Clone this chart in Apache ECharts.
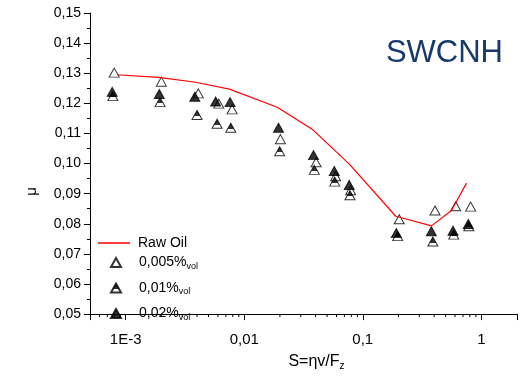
<!DOCTYPE html>
<html>
<head>
<meta charset="utf-8">
<script src="https://cdn.jsdelivr.net/npm/echarts@6/dist/echarts.min.js"></script>
<style>
html,body{margin:0;padding:0;background:#fff;}
#chart{width:523px;height:376px;}
</style>
</head>
<body>
<div id="chart"></div>
<script>
// ---- data ----
const rawOilS  = [0.00085, 0.0019, 0.0039, 0.0075, 0.019, 0.038, 0.077, 0.19, 0.38, 0.56, 0.75];
const rawOilMu = [0.1295, 0.1286, 0.1270, 0.1247, 0.1187, 0.1112, 0.0998, 0.0825, 0.0793, 0.0844, 0.0935];

const c005S  = [0.0008, 0.0020, 0.0041, 0.0061, 0.0079, 0.0202, 0.0404, 0.059, 0.079, 0.203, 0.407, 0.608, 0.813];
const c005Mu = [0.1302, 0.1272, 0.1233, 0.1199, 0.1180, 0.1081, 0.1004, 0.0958, 0.0911, 0.0815, 0.0844, 0.0858, 0.0857];

const c01S  = [0.00078, 0.00195, 0.0040, 0.0059, 0.0077, 0.0199, 0.039, 0.058, 0.078, 0.197, 0.39, 0.585, 0.785];
const c01Mu = [0.1224, 0.1204, 0.1161, 0.1132, 0.1119, 0.1041, 0.0979, 0.0940, 0.0895, 0.0759, 0.0741, 0.0764, 0.0792];

const c02S  = [0.00077, 0.00192, 0.00383, 0.00574, 0.0076, 0.01945, 0.0384, 0.0575, 0.0769, 0.192, 0.379, 0.577, 0.776];
const c02Mu = [0.1238, 0.1231, 0.1222, 0.1206, 0.1204, 0.1119, 0.1028, 0.0975, 0.0929, 0.0769, 0.0775, 0.0777, 0.0799];

const xTickLabels = {'-3': '1E-3', '-2': '0,01', '-1': '0,1', '0': '1'};
const seriesNames = ['Raw Oil', '0,005%', '0,01%', '0,02%'];
const chartTitle = 'SWCNH';
// --------------------------------------

const xMin = 0.0005, xMax = 2, yMin = 0.05, yMax = 0.15;
const minorX = [];
for (let e = -4; e <= 0; e++) {
  for (let m = 2; m <= 9; m++) {
    const v = m * Math.pow(10, e);
    if (v > xMin * 1.0001 && v < xMax * 0.9999) minorX.push([v, yMin]);
  }
}
const zip = (a, b) => a.map((v, i) => [v, b[i]]);
const FONT = '"Liberation Sans", Arial, sans-serif';

const legendRich = {
  m: {fontFamily: FONT, fontSize: 14, color: '#000', lineHeight: 16, padding: [0, 0, 0, 13]},
  r: {fontFamily: FONT, fontSize: 14, color: '#000', lineHeight: 16, padding: [0, 0, 0, 3]},
  s: {fontFamily: FONT, fontSize: 9, color: '#000', lineHeight: 9, padding: [8, 0, 0, 0]}
};

const chart = echarts.init(document.getElementById('chart'), null, {renderer: 'canvas'});
chart.setOption({
  animation: false,
  backgroundColor: '#fff',
  title: {
    text: chartTitle, right: 15, top: 33,
    textStyle: {fontFamily: FONT, fontSize: 31, fontWeight: 'normal', color: '#173a6b'}
  },
  grid: {left: 90, right: 6, top: 13, bottom: 50, containLabel: false},
  legend: [
    {
      orient: 'vertical', left: 93, top: 231,
      itemWidth: 32, itemHeight: 1.5,
      data: [{name: seriesNames[0], icon: 'rect'}],
      textStyle: {rich: legendRich},
      formatter: function (n) { return '{r|' + n + '}'; }
    },
    {
      orient: 'vertical', left: 105, top: 249,
      itemWidth: 10, itemHeight: 9, itemGap: 8.5,
      data: seriesNames.slice(1),
      textStyle: {rich: legendRich},
      formatter: function (n) { return '{m|' + n + '}{s|vol}'; }
    }
  ],
  xAxis: {
    type: 'log', logBase: 10, min: xMin, max: xMax,
    name: '{m|S=ηv/F}{s|z}', nameLocation: 'middle', nameGap: 32,
    nameTextStyle: {
      padding: [0, 0, 0, 26],
      rich: {
        m: {fontFamily: FONT, fontSize: 16, color: '#000', lineHeight: 18},
        s: {fontFamily: FONT, fontSize: 10, color: '#000', lineHeight: 10, padding: [9, 0, 0, 0]}
      }
    },
    axisLine: {show: true, onZero: false, lineStyle: {color: '#000', width: 1}},
    axisTick: {show: true, inside: false, length: 6, lineStyle: {color: '#000'}},
    minorTick: {show: false},
    splitLine: {show: false},
    axisLabel: {
      fontFamily: FONT, fontSize: 15, color: '#000', margin: 18,
      formatter: function (v) {
        const e = Math.round(Math.log10(v));
        if (Math.abs(Math.log10(v) - e) > 1e-6) return '';
        return xTickLabels[String(e)] || '';
      }
    }
  },
  yAxis: {
    type: 'value', min: yMin, max: yMax, interval: 0.01,
    name: 'μ', nameLocation: 'middle', nameGap: 51,
    nameTextStyle: {fontFamily: FONT, fontSize: 15, color: '#000', padding: [0, 56, 0, 0]},
    axisLine: {show: true, lineStyle: {color: '#000', width: 1}},
    axisTick: {show: true, inside: false, length: 6, lineStyle: {color: '#000'}},
    minorTick: {show: true, splitNumber: 2, length: 3, lineStyle: {color: '#000'}},
    splitLine: {show: false},
    axisLabel: {
      fontFamily: FONT, fontSize: 14, color: '#000', margin: 9,
      formatter: function (v) { return v.toFixed(2).replace('.', ','); }
    }
  },
  series: [
    {
      name: 'minorTicks', type: 'custom', silent: true, clip: false, z: 1,
      data: minorX,
      renderItem: function (params, api) {
        const p = api.coord([api.value(0), api.value(1)]);
        return {type: 'line', shape: {x1: p[0], y1: p[1], x2: p[0], y2: p[1] + 3},
                style: {stroke: '#000', lineWidth: 1}};
      }
    },
    {
      name: seriesNames[1], type: 'scatter', symbol: 'triangle', symbolSize: [10, 9], z: 3,
      itemStyle: {color: '#fff', borderColor: '#000', borderWidth: 1},
      data: zip(c005S, c005Mu)
    },
    {
      name: seriesNames[2], type: 'scatter', symbol: 'triangle', symbolSize: [10, 9], z: 3,
      itemStyle: {
        color: new echarts.graphic.LinearGradient(0, 0, 0, 1, [
          {offset: 0, color: '#000'}, {offset: 0.62, color: '#000'},
          {offset: 0.63, color: '#fff'}, {offset: 1, color: '#fff'}
        ]),
        borderColor: '#000', borderWidth: 1
      },
      data: zip(c01S, c01Mu)
    },
    {
      name: seriesNames[3], type: 'scatter', symbol: 'triangle', symbolSize: [10, 9], z: 3,
      itemStyle: {color: '#000', borderColor: '#000', borderWidth: 1},
      data: zip(c02S, c02Mu)
    },
    {
      name: seriesNames[0], type: 'line', symbol: 'none', z: 4,
      lineStyle: {color: '#ff0000', width: 1.2},
      itemStyle: {color: '#ff0000'},
      data: zip(rawOilS, rawOilMu)
    }
  ]
});
</script>
</body>
</html>
